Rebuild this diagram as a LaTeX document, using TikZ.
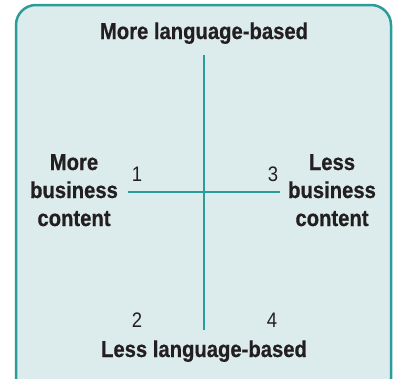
\documentclass[tikz,border=0pt]{standalone}
\usepackage{fontspec}
\newfontfamily\cond{Liberation Sans}[FakeStretch=0.88,BoldFeatures={FakeBold=0.6}]
\definecolor{teal}{HTML}{2A9D9B}
\definecolor{panel}{HTML}{DCEBEB}
\definecolor{ink}{HTML}{231F20}
\begin{document}
\begin{tikzpicture}[x=1pt,y=-1pt,
  frame/.style={draw=teal,line width=2.5pt,fill=panel,rounded corners=20pt},
  axis/.style={draw=teal,line width=2pt},
  pole/.style={font=\cond\bfseries\fontsize{23}{28}\selectfont,text=ink,inner sep=0pt,anchor=base},
  side/.style={pole,align=center},
  quad/.style={font=\cond\fontsize{21}{25}\selectfont,text=ink,inner sep=0pt,anchor=base}]
\useasboundingbox (0,0) rectangle (393,378);
\clip (0,0) rectangle (393,378);
\path[frame] (16,390) -- (16,5) -- (391,5) -- (391,390);
% axes
\coordinate (top) at (204,55);
\coordinate (bottom) at (204,330);
\coordinate (left) at (128,192);
\coordinate (right) at (280,192);
\draw[axis] (top) -- (bottom);
\draw[axis] (left) -- (right);
% pole labels
\node[pole] (more) at (204,39) {More language-based};
\node[pole] (less) at (204,357) {Less language-based};
\node[side] (mbc) at (74,226) {More\\business\\content};
\node[side] (lbc) at (332,226) {Less\\business\\content};
% quadrant numbers
\node[quad] (q1) at (137,181) {1};
\node[quad] (q3) at (273,181) {3};
\node[quad] (q2) at (137,327) {2};
\node[quad] (q4) at (272,327) {4};
\end{tikzpicture}
\end{document}
